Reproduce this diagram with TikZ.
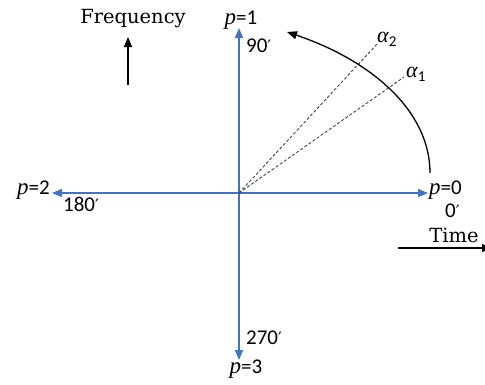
\documentclass[tikz,border=0pt]{standalone}
\usepackage{fontspec}
\setmainfont{DejaVu Serif}
\newfontfamily\numf{Carlito}
\newfontfamily\primef{DejaVu Sans}
\newfontfamily\pfont{Liberation Serif}
\usetikzlibrary{arrows.meta}
\definecolor{axisblue}{RGB}{68,114,196}
\newcommand{\plab}[1]{{\pfont\itshape\fontsize{23}{26}\selectfont p}{\numf =#1}}
\newcommand{\prm}{{\primef\fontsize{17}{20}\selectfont ′}}
\newcommand{\alab}[1]{{\pfont\itshape\fontsize{22}{26}\selectfont α}\raisebox{-4pt}{\numf\fontsize{15}{18}\selectfont #1}}
\begin{document}
\begin{tikzpicture}[x=1pt,y=-1pt,
  wordlbl/.style={inner sep=0pt, font=\fontsize{19.5}{24}\selectfont},
  numlbl/.style={inner sep=0pt, font=\fontsize{21}{24}\numf},
  axisline/.style={axisblue, line width=1.3pt, -{Triangle[length=10pt,width=8pt]}},
  blackarrow/.style={black, line width=1.1pt, -{Triangle[length=10pt,width=8pt]}},
  dashline/.style={black!80, line width=0.8pt, dash pattern=on 3pt off 2pt},
  alphalbl/.style={inner sep=0pt}
]
\clip (0,0) rectangle (485,384);
\fill[white] (0,0) rectangle (485,384);

% axes
\coordinate (O) at (239,193);
\coordinate (top) at (239,28);
\coordinate (bot) at (239,360);
\coordinate (lft) at (52,193);
\coordinate (rgt) at (428,193);
\draw[axisline] (O) -- (top);
\draw[axisline] (O) -- (bot);
\draw[axisline] (O) -- (lft);
\draw[axisline] (O) -- (rgt);

% axis labels
\node[numlbl, anchor=base] (p1) at (241,24) {\plab{1}};
\node[numlbl, anchor=base west] (a90) at (246,52) {90\prm};
\node[numlbl, anchor=base west] (p0) at (429,194) {\plab{0}};
\node[numlbl, anchor=base west] (a0) at (445,217) {0\prm};
\node[numlbl, anchor=base east] (p2) at (50,194) {\plab{2}};
\node[numlbl, anchor=base west] (a180) at (63,211) {180\prm};
\node[numlbl, anchor=base west] (a270) at (246,344) {270\prm};
\node[numlbl, anchor=base] (p3) at (246,373) {\plab{3}};

% frequency
\node[wordlbl, anchor=base] (freq) at (133,23) {Frequency};
\coordinate (fbot) at (128,85);
\coordinate (ftop) at (128,37);
\draw[blackarrow] (fbot) -- (ftop);

% time
\node[wordlbl, anchor=base] (time) at (454,242) {Time};
\coordinate (tl) at (398,248);
\coordinate (tr) at (492,248);
\draw[blackarrow] (tl) -- (tr);

% dashed angle lines
\coordinate (d1) at (404,77);
\coordinate (d2) at (378,43);
\draw[dashline] (O) -- (d1);
\draw[dashline] (O) -- (d2);
\node[alphalbl, anchor=base west] (al1) at (406,77) {\alab{1}};
\node[alphalbl, anchor=base west] (al2) at (377,42) {\alab{2}};

% rotation arc
\coordinate (arcs) at (430,173);
\coordinate (arce) at (287,32);
\draw[blackarrow, line width=1.3pt] (arcs) .. controls (430,110) and (370,60) .. (arce);
\end{tikzpicture}
\end{document}
